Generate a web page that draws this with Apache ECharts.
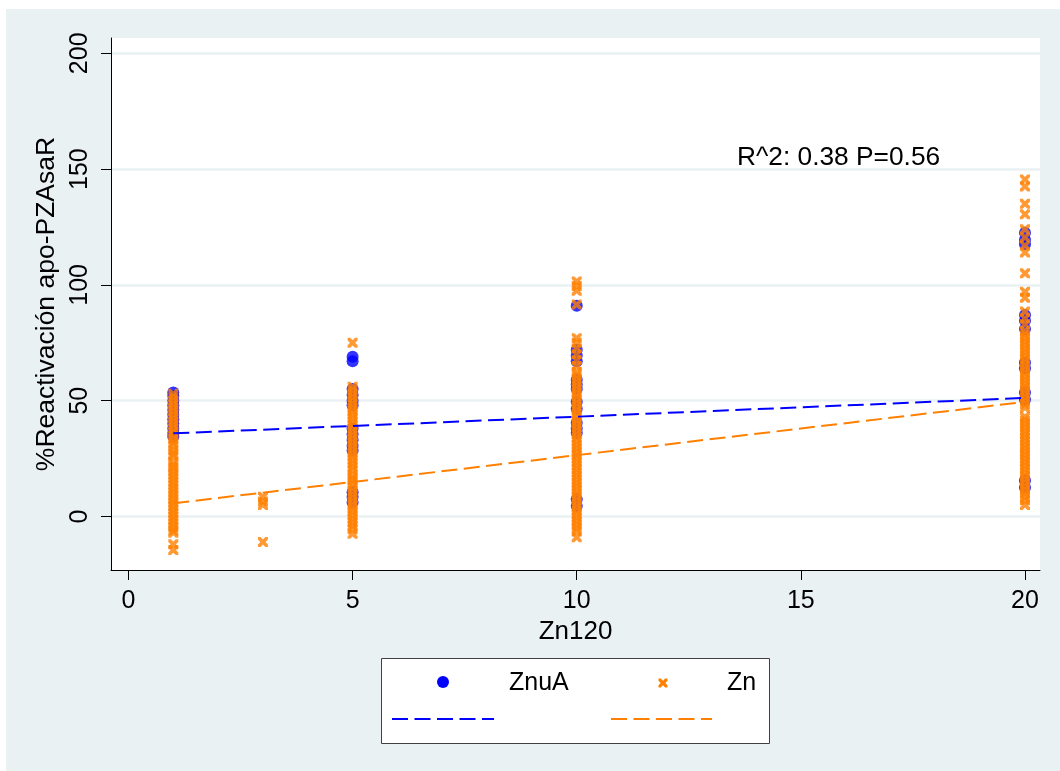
<!DOCTYPE html>
<html>
<head>
<meta charset="utf-8">
<title>%Reactivación apo-PZAsaR vs Zn120</title>
<script src="https://cdn.jsdelivr.net/npm/echarts@6/dist/echarts.min.js"></script>
<style>
  html, body { margin: 0; padding: 0; background: #ffffff; }
  #chart { width: 1060px; height: 771px; }
</style>
</head>
<body>
<div id="chart"></div>
<script>
// ZnuA readings (%) at each Zn120 level
const znua1  = [53.5, 52, 50, 48, 46, 44, 42, 40, 38, 36, 34.5];
const znua5  = [69, 67, 55, 52.5, 50, 48, 38, 35.5, 33, 30.5, 28.5, 10.5, 8.5, 6];
const znua10 = [91, 72, 69.5, 67, 59, 57, 55, 49.5, 46.5, 40.5, 38, 36, 7.5, 4.5];
const znua20 = [122.5, 119.5, 117.5, 87, 84.5, 81, 66.5, 64, 53.5, 50.5, 15.5, 12.5];

// Zn readings (%) at each Zn120 level
const zn1  = [53, 51.5, 50, 48.5, 47, 45.5, 44, 42.5, 41, 39.5, 38, 36.5, 35, 33.5, 32, 30.5, 28.5, 27, 26, 23.5, 22, 21, 19.5, 18, 16.5, 15, 13.5, 12, 10.5, 9, 7.5, 6, 4.5, 3, 1.5, 0, -1.5, -3, -4.5, -6, -7, -12, -14.5];
const zn3  = [8.5, 6.5, 5, -11];
const zn5  = [75, 56, 54.5, 53, 51.5, 50, 48.5, 47, 45.5, 44, 42.5, 41, 39.5, 38, 36.5, 35, 33.5, 32, 30.5, 29, 27.5, 26, 24.5, 23, 21.5, 20, 18, 16.5, 15.5, 14, 12.5, 11, 9.5, 8, 6.5, 5, 3.5, 2, 0.5, -1, -2.5, -4, -5.5, -7.5];
const zn10 = [101.5, 99.5, 97.5, 91.5, 77, 75, 72.5, 70, 67.5, 65, 62.5, 61, 59.5, 58, 56.5, 55, 53.5, 52, 50.5, 49, 47.5, 46, 44.5, 43, 41.5, 40, 38.5, 37, 35.5, 34, 32.5, 31, 29.5, 28, 26.5, 25, 23.5, 22, 20.5, 19, 17.5, 16, 14.5, 13, 11.5, 10, 8.5, 7, 5.5, 4, 2.5, 1, -0.5, -2, -3.5, -5, -6.5, -9];
const zn20 = [145.5, 142.5, 135, 130.5, 124, 120.5, 117, 114, 105, 97, 94.5, 88.5, 85.5, 83, 80, 78.5, 77, 75.5, 74, 72.5, 71, 69.5, 68, 66.5, 65, 63.5, 62, 60.5, 59, 57.5, 56, 54.5, 53, 51.5, 50, 48.5, 47, 43, 41.5, 40, 38.5, 37, 35.5, 34, 32.5, 31, 29.5, 28, 26.5, 25, 23.5, 22, 20.5, 19, 17.5, 16, 14.5, 13, 11.5, 10, 8.5, 7, 5];

// Linear fits
const fitZnuaX = [1, 5, 10, 20];
const fitZnuaY = [35.9, 39.1, 43.1, 51.2];
const fitZnX = [1, 3, 5, 10, 20];
const fitZnY = [5.7, 10.3, 14.9, 26.5, 49.5];

// Axis ticks
const xTicks = [0, 5, 10, 15, 20];
const yTicks = [0, 50, 100, 150, 200];

const BLUE = '#0000ff';
const ORANGE = '#ff8000';
const FONT = 'Liberation Sans, Arial, sans-serif';
// cross marker outline on a 10x10 box
const CROSS_PTS = [[0,0],[2.6,0],[5,2.4],[7.4,0],[10,0],[10,2.6],[7.6,5],[10,7.4],[10,10],[7.4,10],[5,7.6],[2.6,10],[0,10],[0,7.4],[2.4,5],[0,2.6]];
const CROSS = 'path://M' + CROSS_PTS.map(function (p) { return p[0] + ',' + p[1]; }).join(' L') + ' Z';

function pairs(x, ys) { return ys.map(function (y) { return [x, y]; }); }
function zip(xs, ys) { return xs.map(function (x, i) { return [x, ys[i]]; }); }

const znuaData = [].concat(pairs(1, znua1), pairs(5, znua5), pairs(10, znua10), pairs(20, znua20));
const znData = [].concat(pairs(1, zn1), pairs(3, zn3), pairs(5, zn5), pairs(10, zn10), pairs(20, zn20));

const chart = echarts.init(document.getElementById('chart'), null, { renderer: 'canvas' });

const dash = [16, 6.5];

// legend cross, centred at (663, 683), 9px wide
const legendCross = CROSS_PTS.map(function (p) { return [658.5 + p[0] * 0.9, 678.5 + p[1] * 0.9]; });

chart.setOption({
  backgroundColor: '#eaf1f3',
  animation: false,
  textStyle: { fontFamily: FONT },
  grid: {
    left: 111, top: 38, width: 929, height: 532,
    show: true, backgroundColor: '#ffffff', borderWidth: 0
  },
  xAxis: {
    type: 'value',
    min: -0.39, max: 20.335,
    name: 'Zn120',
    nameLocation: 'middle',
    nameGap: 43,
    nameTextStyle: { fontSize: 26, color: '#000', fontFamily: FONT },
    axisLine: { onZero: false, lineStyle: { color: '#000', width: 1 } },
    axisTick: { customValues: xTicks, length: 10, lineStyle: { color: '#000' } },
    axisLabel: { customValues: xTicks, fontSize: 25, color: '#000', margin: 19, fontFamily: FONT },
    splitLine: { show: false }
  },
  yAxis: {
    type: 'value',
    min: -23.1, max: 206.6,
    name: '%Reactivación apo-PZAsaR',
    nameLocation: 'middle',
    nameGap: 48,
    nameTextStyle: { fontSize: 26.5, color: '#000', fontFamily: FONT },
    axisLine: { onZero: false, lineStyle: { color: '#000', width: 1 } },
    axisTick: { customValues: yTicks, length: 10, lineStyle: { color: '#000' } },
    axisLabel: { customValues: yTicks, rotate: 90, fontSize: 25, color: '#000', margin: 18, fontFamily: FONT },
    splitLine: { show: true, lineStyle: { color: '#eaf1f3', width: 2.5 } }
  },
  series: [
    {
      name: 'ZnuA', type: 'scatter', data: znuaData,
      symbol: 'circle', symbolSize: 12,
      itemStyle: { color: BLUE }, z: 2
    },
    {
      name: 'Zn', type: 'scatter', data: znData,
      symbol: CROSS, symbolSize: 10,
      itemStyle: { color: ORANGE }, z: 3
    },
    {
      name: 'ZnuA fit', type: 'line', data: zip(fitZnuaX, fitZnuaY),
      showSymbol: false, symbol: 'none',
      lineStyle: { color: BLUE, width: 2, type: dash }, z: 4
    },
    {
      name: 'Zn fit', type: 'line', data: zip(fitZnX, fitZnY),
      showSymbol: false, symbol: 'none',
      lineStyle: { color: ORANGE, width: 2, type: dash }, z: 4
    }
  ],
  graphic: [
    // white margins at the top-left of the page
    { type: 'rect', left: 0, top: 0, shape: { width: 6, height: 771 }, style: { fill: '#ffffff' }, silent: true },
    { type: 'rect', left: 0, top: 0, shape: { width: 1060, height: 9 }, style: { fill: '#ffffff' }, silent: true },
    // fit statistics
    {
      type: 'text', x: 737, y: 158,
      style: { text: 'R^2: 0.38 P=0.56', fill: '#000', font: '26.3px ' + FONT, textVerticalAlign: 'middle' },
      z: 10
    },
    // legend
    {
      type: 'group', z: 10,
      children: [
        { type: 'rect', shape: { x: 381.5, y: 658.5, width: 388, height: 85 }, style: { fill: '#ffffff', stroke: '#404040', lineWidth: 1 } },
        { type: 'circle', shape: { cx: 443, cy: 682, r: 6 }, style: { fill: BLUE } },
        { type: 'text', x: 509, y: 683, style: { text: 'ZnuA', fill: '#000', font: '25px ' + FONT, textVerticalAlign: 'middle' } },
        { type: 'polygon', shape: { points: legendCross }, style: { fill: ORANGE } },
        { type: 'text', x: 727, y: 683, style: { text: 'Zn', fill: '#000', font: '25px ' + FONT, textVerticalAlign: 'middle' } },
        { type: 'line', shape: { x1: 392, y1: 719, x2: 494, y2: 719 }, style: { stroke: BLUE, lineWidth: 2, lineDash: dash } },
        { type: 'line', shape: { x1: 611, y1: 719, x2: 712, y2: 719 }, style: { stroke: ORANGE, lineWidth: 2, lineDash: dash } }
      ]
    }
  ]
});
</script>
</body>
</html>
